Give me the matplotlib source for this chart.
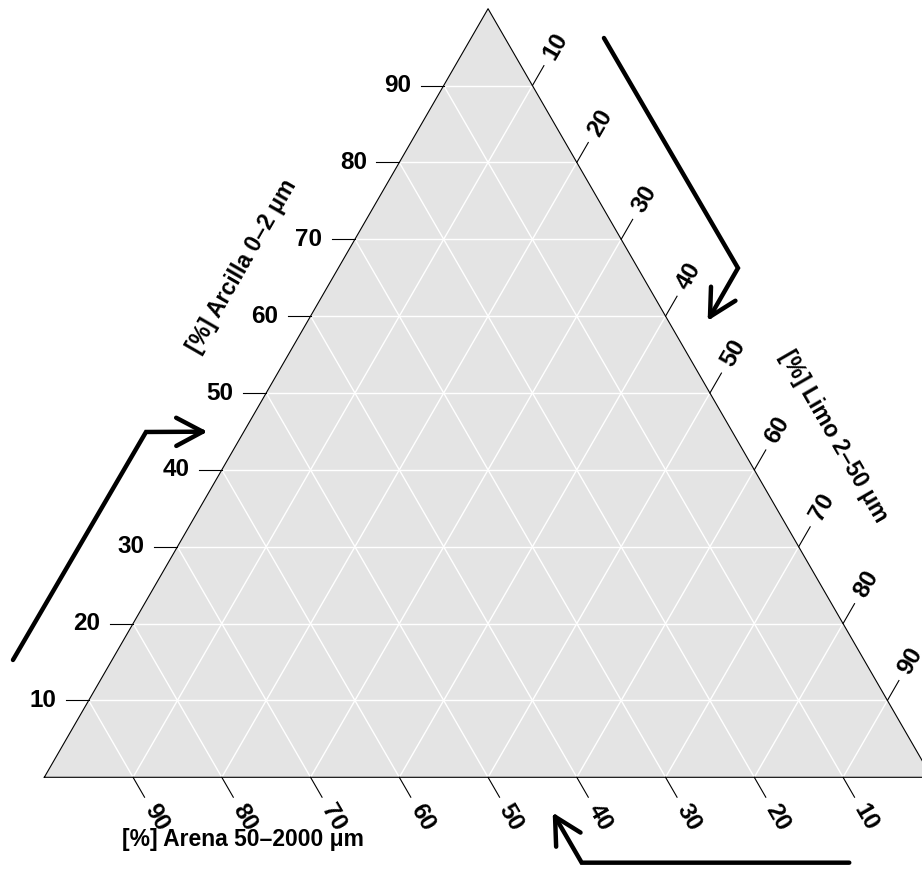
import numpy as np
import matplotlib
matplotlib.use("Agg")
import matplotlib.pyplot as plt

plt.rcParams["font.family"] = ["Liberation Sans", "DejaVu Sans"]

# valores de los ejes (porcentaje)
ticks = [10, 20, 30, 40, 50, 60, 70, 80, 90]
title_arena = "[%] Arena 50–2000 μm"
title_limo = "[%] Limo 2–50 μm"
title_arcilla = "[%] Arcilla 0–2 μm"

H = np.sqrt(3) / 2
PX = 887.5  # pixeles por unidad (lado del triangulo)


def tern(arena, limo, arcilla):
    s = arena + limo + arcilla
    return (limo + arcilla / 2) / s, arcilla * H / s


fig = plt.figure(figsize=(9.22, 8.75), dpi=100)
ax = fig.add_axes([0, 0, 1, 1])
ax.set_xlim(-44.3 / PX, (922 - 44.3) / PX)
ax.set_ylim((777.3 - 875) / PX, 777.3 / PX)
ax.axis("off")

# fondo del triangulo
corners = [tern(1, 0, 0), tern(0, 1, 0), tern(0, 0, 1)]
ax.add_patch(plt.Polygon(corners, closed=True, fc="#E4E4E4", ec="none", zorder=0))

# rejilla
for v in ticks:
    f = v / 100
    p1, p2 = tern(1 - f, 0, f), tern(0, 1 - f, f)      # arcilla cte
    ax.plot([p1[0], p2[0]], [p1[1], p2[1]], color="white", lw=1.0, zorder=1)
    p1, p2 = tern(f, 1 - f, 0), tern(f, 0, 1 - f)      # arena cte
    ax.plot([p1[0], p2[0]], [p1[1], p2[1]], color="white", lw=1.0, zorder=1)
    p1, p2 = tern(0, f, 1 - f), tern(1 - f, f, 0)      # limo cte
    ax.plot([p1[0], p2[0]], [p1[1], p2[1]], color="white", lw=1.0, zorder=1)

xs = [c[0] for c in corners] + [corners[0][0]]
ys = [c[1] for c in corners] + [corners[0][1]]
ax.plot(xs, ys, color="black", lw=0.8, zorder=2)

tick_len = 23 / PX
lab_d = 46 / PX
fs = 17.5
for v in ticks:
    f = v / 100
    # izquierda: arcilla
    x0, y0 = tern(1 - f, 0, f)
    ax.plot([x0, x0 - tick_len], [y0, y0], color="black", lw=0.8)
    ax.text(x0 - lab_d, y0, str(v), ha="center", va="center", fontsize=fs,
            fontweight="bold")
    # abajo: arena
    x0, y0 = tern(f, 1 - f, 0)
    dx, dy = 0.5, -H
    ax.plot([x0, x0 + dx * tick_len], [y0, y0 + dy * tick_len], color="black", lw=0.8)
    ax.text(x0 + dx * lab_d, y0 + dy * lab_d, str(v), ha="center", va="center",
            fontsize=fs, fontweight="bold", rotation=-60, rotation_mode="anchor")
    # derecha: limo
    x0, y0 = tern(0, f, 1 - f)
    dx, dy = 0.5, H
    ax.plot([x0, x0 + dx * tick_len], [y0, y0 + dy * tick_len], color="black", lw=0.8)
    ax.text(x0 + dx * lab_d, y0 + dy * lab_d, str(v), ha="center", va="center",
            fontsize=fs, fontweight="bold", rotation=60, rotation_mode="anchor")

# titulos de los ejes
ax.text(0.2239, -0.0705, title_arena, ha="center", va="center", fontsize=16.5,
        fontweight="bold")
ax.text(0.2228, 0.5761, title_arcilla, ha="center", va="center", fontsize=16.5,
        fontweight="bold", rotation=60, rotation_mode="anchor")
ax.text(0.8898, 0.3845, title_limo, ha="center", va="center", fontsize=16.5,
        fontweight="bold", rotation=-60, rotation_mode="anchor")

# flechas de direccion
arrows = [
    [(-0.0353, 0.1322), (0.1146, 0.3891), (0.1785, 0.3894)],
    [(0.6306, 0.8330), (0.7816, 0.5738), (0.7501, 0.5190)],
    [(0.9070, -0.0962), (0.6055, -0.0962), (0.5755, -0.0444)],
]
head = 30 / PX
for path in arrows:
    px_, py_ = zip(*path)
    ax.plot(px_, py_, color="black", lw=3.2, solid_capstyle="round",
            solid_joinstyle="miter")
    (xa, ya), (xb, yb) = path[-2], path[-1]
    ang = np.arctan2(yb - ya, xb - xa)
    for s in (1, -1):
        a = ang + np.pi + s * np.radians(28)
        ax.plot([xb, xb + head * np.cos(a)], [yb, yb + head * np.sin(a)],
                color="black", lw=3.2, solid_capstyle="round")

fig.savefig("out.png", dpi=100)
